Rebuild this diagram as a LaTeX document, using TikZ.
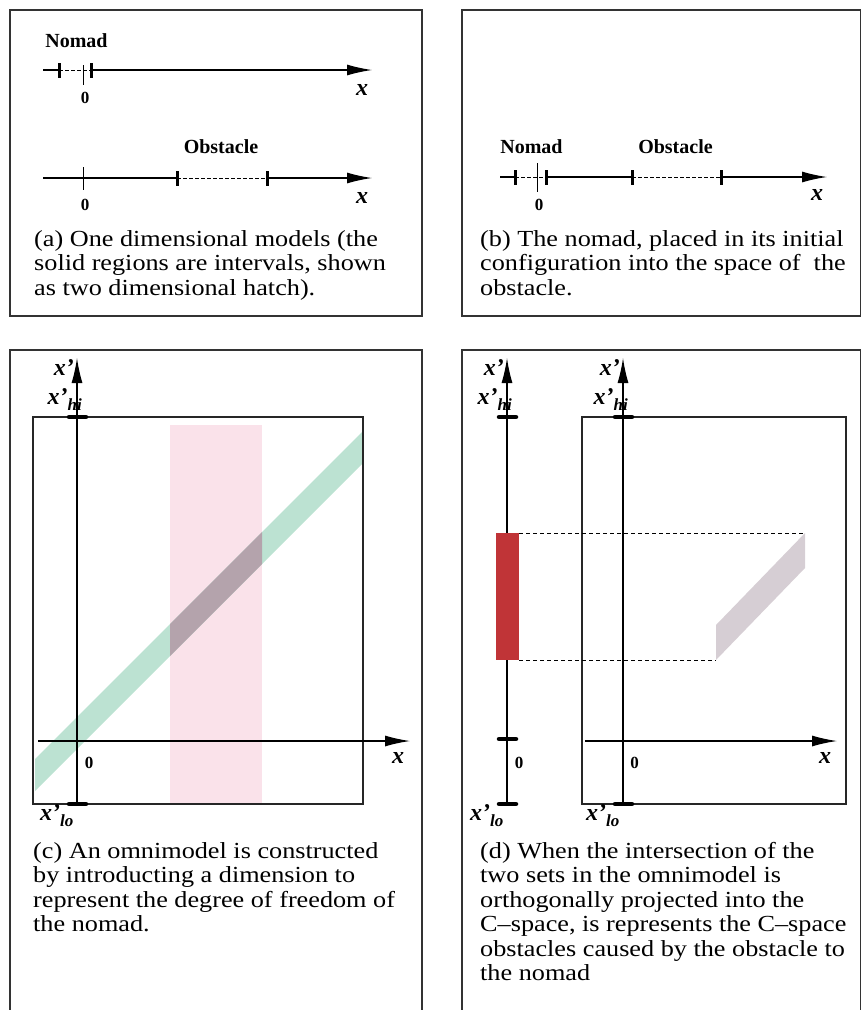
\documentclass[tikz,border=0pt]{standalone}
\usepackage{fontspec}
\setmainfont{Liberation Serif}
\newfontfamily\capfont{Liberation Serif}[FakeStretch=1.14, Ligatures=TeX]
\usepackage{xcolor}
\usetikzlibrary{positioning, arrows.meta}

\definecolor{obstpink}{RGB}{250,226,234}
\definecolor{nomadgreen}{RGB}{188,226,210}
\definecolor{overlapgray}{RGB}{180,163,172}
\definecolor{cobstred}{RGB}{192,52,55}
\definecolor{cobstgray}{RGB}{214,206,212}

\newcommand{\xprime}{x'}
\newcommand{\xprimehi}{x'\raisebox{-6pt}{\fontsize{17}{17}\selectfont hi}}
\newcommand{\xprimelo}{x'\raisebox{-6pt}{\fontsize{17}{17}\selectfont lo}}

\begin{document}
\begin{tikzpicture}[
    x=1pt, y=-1pt,
    panel/.style={draw=black!80, line width=1.1pt},
    frame/.style={draw=black!85, line width=1.1pt},
    axis/.style={line width=1.3pt, -{Latex[length=25pt, width=11pt]}},
    plain/.style={line width=1.3pt},
    gap/.style={line width=1pt, dash pattern=on 3.5pt off 2.5pt},
    proj/.style={line width=0.9pt, dash pattern=on 4pt off 3pt},
    endmark/.style={line width=3pt},
    flatmark/.style={line width=4.5pt, line cap=round},
    zeromark/.style={line width=0.7pt},
    objlabel/.style={font=\fontsize{20}{20}\selectfont\bfseries, inner sep=0pt, anchor=base},
    zerolabel/.style={font=\fontsize{17}{17}\selectfont\bfseries, inner sep=0pt, anchor=base},
    varlabel/.style={font=\fontsize{24}{24}\selectfont\bfseries\itshape, inner sep=0pt},
    caption/.style={font=\capfont\fontsize{23}{24.5}\selectfont, inner sep=0pt, anchor=base west}
]
\useasboundingbox (0,0) rectangle (862,1010);

% ==========================================
% (a) ONE DIMENSIONAL MODELS
% ==========================================
\draw[panel] (10,10) rectangle (422,316);

% Nomad line
\node[objlabel] (nomadA) at (76.5,47) {Nomad};
\draw[zeromark] (83,65) -- (83,85);
\draw[plain] (43,70) -- (59,70);
\draw[gap] (59,70) -- (91,70);
\draw[axis] (91,70) -- (372,70);
\draw[endmark] (59,63) -- (59,78);
\draw[endmark] (91,63) -- (91,78);
\node[zerolabel] (zeroA1) at (85,103) {0};
\node[varlabel, anchor=base] (xA1) at (362,95) {x};

% Obstacle line
\node[objlabel] (obstA) at (221,153) {Obstacle};
\draw[zeromark] (83,167) -- (83,190);
\draw[plain] (43,178) -- (177,178);
\draw[gap] (177,178) -- (267,178);
\draw[axis] (267,178) -- (372,178);
\draw[endmark] (177,171) -- (177,186);
\draw[endmark] (267,171) -- (267,186);
\node[zerolabel] (zeroA2) at (85,210) {0};
\node[varlabel, anchor=base] (xA2) at (362,203) {x};

\node[caption] (capA) at (34,246) {\parbox[t]{385pt}{\raggedright
    (a) One dimensional models (the\\
    solid regions are intervals, shown\\
    as two dimensional hatch).}};

% ==========================================
% (b) NOMAD PLACED INTO THE OBSTACLE SPACE
% ==========================================
\draw[panel] (462,10) -- (860.5,10) -- (860.5,316) -- (462,316) -- cycle;

\node[objlabel] (nomadB) at (531.5,153) {Nomad};
\node[objlabel] (obstB) at (675.5,153) {Obstacle};
\draw[zeromark] (537,163) -- (537,192);
\draw[plain] (500,177) -- (515,177);
\draw[gap] (515,177) -- (546,177);
\draw[plain] (546,177) -- (632,177);
\draw[gap] (632,177) -- (721,177);
\draw[axis] (721,177) -- (827,177);
\foreach \t in {515,546,632,721}
    \draw[endmark] (\t,170) -- (\t,185);
\node[zerolabel] (zeroB) at (539,210) {0};
\node[varlabel, anchor=base] (xB) at (817,200) {x};

\node[caption] (capB) at (480,246) {\parbox[t]{385pt}{\raggedright
    (b) The nomad, placed in its initial\\
    configuration into the space of ~the\\
    obstacle.}};

% ==========================================
% (c) OMNIMODEL
% ==========================================
\draw[panel] (10,1012) -- (10,350) -- (422,350) -- (422,1012);

% Regions
\fill[obstpink] (170,425) rectangle (262,804);
\fill[nomadgreen] (35,759) -- (363,431) -- (363,463) -- (35,791) -- cycle;
\fill[overlapgray] (170,624) -- (262,532) -- (262,564) -- (170,656) -- cycle;

\draw[frame] (33,417) rectangle (363,804);

% Axes
\draw[axis] (77,804) -- (77,358);
\draw[axis] (38,741) -- (410,741);
\draw[flatmark] (69,417) -- (86,417);
\draw[flatmark] (69,804) -- (86,804);

\node[varlabel, anchor=base east] (xpC) at (74,375) {\xprime};
\node[varlabel, anchor=base east] (xhiC) at (82,404) {\xprimehi};
\node[varlabel, anchor=base west] (xloC) at (40,820) {\xprimelo};
\node[zerolabel] (zeroC) at (89,768) {0};
\node[varlabel, anchor=base] (xC) at (398,763) {x};

\node[caption] (capC) at (33,858) {\parbox[t]{385pt}{\raggedright
    (c) An omnimodel is constructed\\
    by introducting a dimension to\\
    represent the degree of freedom of\\
    the nomad.}};

% ==========================================
% (d) PROJECTION INTO C-SPACE
% ==========================================
\draw[panel] (462,1012) -- (462,350) -- (860.5,350) -- (860.5,1012);

% Nomad degree of freedom
\draw[axis] (507,804) -- (507,358);
\draw[flatmark] (499,417) -- (516,417);
\draw[flatmark] (499,739) -- (516,739);
\draw[flatmark] (499,804) -- (516,804);
\fill[cobstred] (496,533) rectangle (519,660);

\node[varlabel, anchor=base east] (xpD1) at (504,375) {\xprime};
\node[varlabel, anchor=base east] (xhiD1) at (512,404) {\xprimehi};
\node[varlabel, anchor=base west] (xloD1) at (470,820) {\xprimelo};
\node[zerolabel] (zeroD1) at (519,768) {0};

% C-space
\fill[cobstgray] (716,660) -- (716,625) -- (805,533) -- (805,568) -- cycle;
\draw[frame] (582,417) rectangle (846,804);
\draw[axis] (623,804) -- (623,358);
\draw[axis] (585,741) -- (837,741);
\draw[flatmark] (615,417) -- (632,417);
\draw[flatmark] (615,804) -- (632,804);

% Projection lines
\draw[proj] (519,533) -- (805,533);
\draw[proj] (519,660) -- (716,660);

\node[varlabel, anchor=base east] (xpD2) at (620,375) {\xprime};
\node[varlabel, anchor=base east] (xhiD2) at (628,404) {\xprimehi};
\node[varlabel, anchor=base west] (xloD2) at (586,820) {\xprimelo};
\node[zerolabel] (zeroD2) at (634.5,768) {0};
\node[varlabel, anchor=base] (xD) at (825,763) {x};

\node[caption] (capD) at (480,858) {\parbox[t]{380pt}{\raggedright
    (d) When the intersection of the\\
    two sets in the omnimodel is\\
    orthogonally projected into the\\
    C\textendash space, is represents the C\textendash space\\
    obstacles caused by the obstacle to\\
    the nomad}};

\end{tikzpicture}
\end{document}
